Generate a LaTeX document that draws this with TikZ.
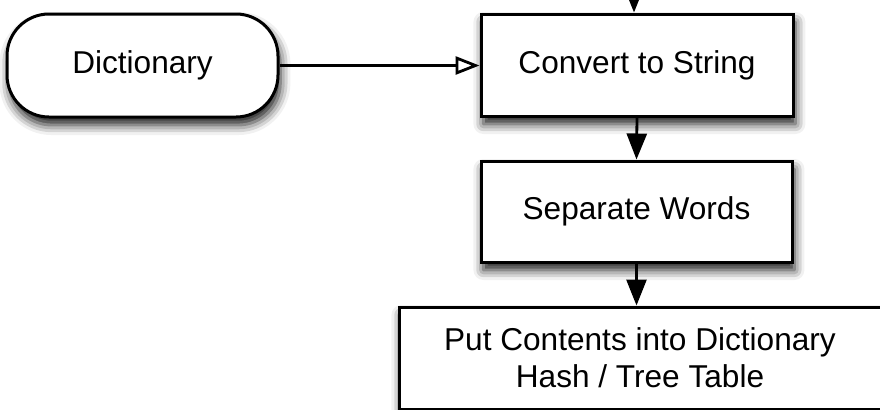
\documentclass[tikz,border=0pt]{standalone}
\usepackage{fontspec}
\setmainfont{Liberation Sans}
\usetikzlibrary{arrows.meta,shadows.blur}
\begin{document}
\begin{tikzpicture}[x=0.5pt,y=-0.5pt,
  font=\fontsize{15.8pt}{18.5pt}\selectfont,
  boxshadow/.style={blur shadow={shadow xshift=1.2pt,shadow yshift=-4pt,shadow blur radius=5pt,shadow opacity=90}},
  procbox/.style={draw,line width=1.5pt,fill=white,inner sep=0pt,align=center,boxshadow},
  flow/.style={line width=1.4pt,-{Triangle[length=13pt,width=10pt]}},
  openflow/.style={line width=1.3pt,-{Triangle[open,length=12pt,width=9pt,line width=1.4pt]}}]
\useasboundingbox (0,0) rectangle (880,409);
\node[procbox,rounded corners=21pt,minimum width=135.5pt,minimum height=51.5pt] (dict) at (142.5,65.5) {Dictionary};
\node[procbox,minimum width=156pt,minimum height=51pt] (conv) at (637,65) {Convert to String};
\node[procbox,minimum width=155.5pt,minimum height=50.5pt] (sep) at (636.5,211.5) {Separate Words};
\node[procbox,minimum width=241pt,minimum height=51pt] (put) at (640,358) {Put Contents into Dictionary\\Hash / Tree Table};
\coordinate (top) at (634,-30);
\draw[flow] (top) -- (top |- conv.north);
\draw[openflow] (dict.east) -- (conv.west |- dict.east);
\draw[flow] (conv.south) -- (sep.north);
\draw[flow] (sep.south) -- (sep.south |- put.north);
\end{tikzpicture}
\end{document}
